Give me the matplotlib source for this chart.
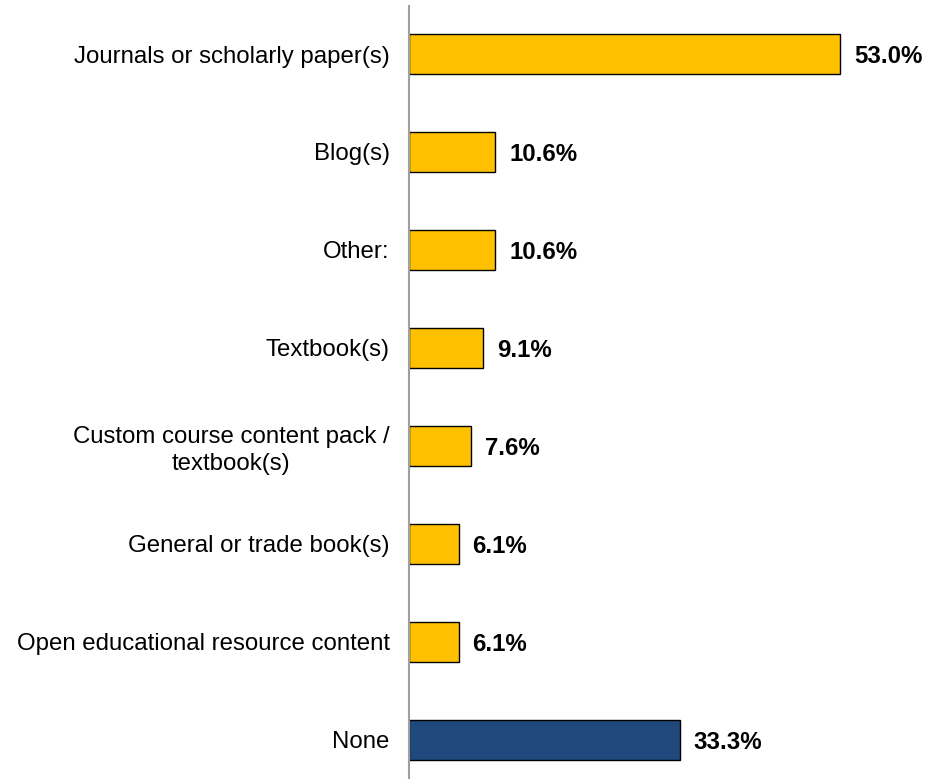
import numpy as np
import matplotlib.pyplot as plt

categories = [
    "Journals or scholarly paper(s)",
    "Blog(s)",
    "Other:",
    "Textbook(s)",
    "Custom course content pack /\ntextbook(s)",
    "General or trade book(s)",
    "Open educational resource content",
    "None",
]
values = [53.0, 10.6, 10.6, 9.1, 7.6, 6.1, 6.1, 33.3]
colors = ["#FFC000"] * 7 + ["#1F497D"]

plt.rcParams['font.family'] = ['Liberation Sans', 'DejaVu Sans']

W, H = 938, 783
fig = plt.figure(figsize=(W / 100, H / 100), dpi=100)
# axes placed in pixel terms: y axis at x=409, spanning y=6..778
ax = fig.add_axes([409 / W, 1 - 778 / H, (W - 409) / W, (778 - 6) / H])

y = np.arange(len(categories))
ax.barh(y, values, height=0.41, color=colors, edgecolor="black", linewidth=1.0)

for yi, v in zip(y, values):
    ax.annotate(f"{v:.1f}%", (v, yi), xytext=(10, 0), textcoords="offset points",
                ha="left", va="center_baseline", fontsize=17.3, fontweight="bold")

ax.set_xlim(0, 65)
ax.set_ylim(7.39, -0.49)
ax.set_yticks(y)
ax.set_yticklabels(categories, fontsize=17.3, linespacing=1.3, multialignment="center")
for lbl in ax.get_yticklabels():
    lbl.set_verticalalignment("center_baseline")
ax.tick_params(axis="y", length=0, pad=14)
ax.set_xticks([])

for s in ["top", "right", "bottom"]:
    ax.spines[s].set_visible(False)
ax.spines["left"].set_color("#A0A0A0")
ax.spines["left"].set_linewidth(1.5)

fig.savefig("out.png", dpi=100)
